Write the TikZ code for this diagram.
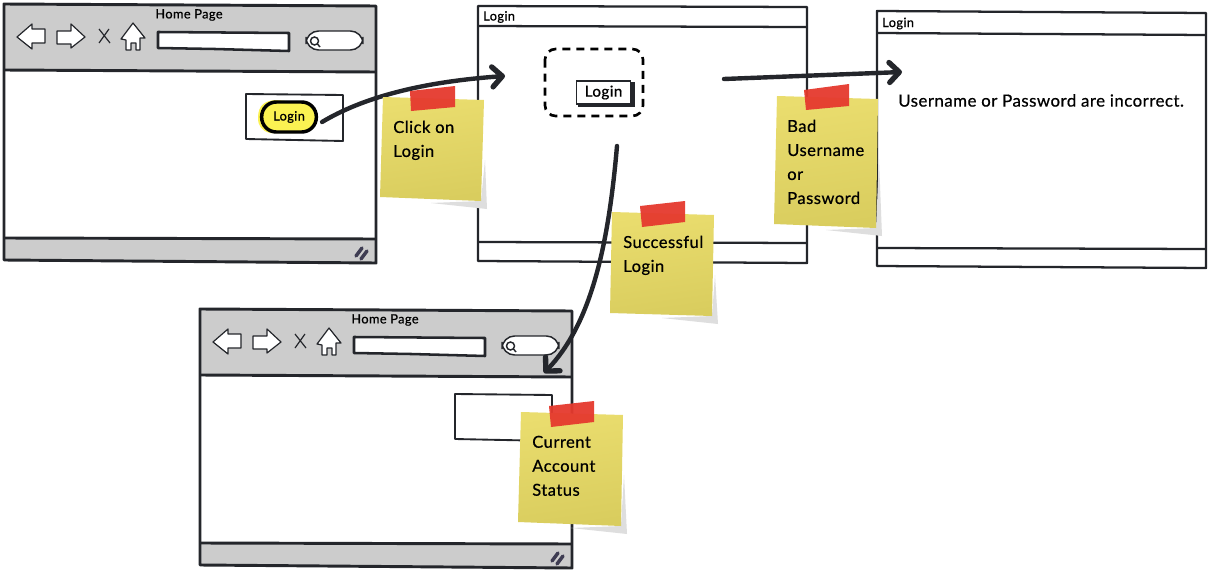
\documentclass[tikz,border=0pt]{standalone}
\usepackage{fontspec}
\setmainfont{Lato}[LetterSpace=3,RawFeature={embolden=0.6}]
\usetikzlibrary{arrows.meta}
\definecolor{ink}{HTML}{24262B}
\definecolor{chrome}{HTML}{CCCCCC}
\definecolor{noteA}{HTML}{EADD6E}
\definecolor{noteB}{HTML}{D9CD5E}
\definecolor{tapeR}{HTML}{E5392E}
\definecolor{marker}{HTML}{FBF252}
\definecolor{hatch}{HTML}{3E3C52}
\tikzset{
  x=0.75pt,y=-0.75pt,
  frame/.style={draw=ink,line width=2.2pt,line join=round},
  midframe/.style={draw=ink,line width=1.7pt,line join=round},
  thinframe/.style={draw=ink,line width=1.4pt,line join=round},
  icon/.style={draw=ink,fill=white,line width=0.9pt,line join=round},
  smalltext/.style={font=\fontsize{9.6}{11}\selectfont,inner sep=0pt,text=black},
  bodytext/.style={font=\fontsize{12.4}{18}\selectfont,inner sep=0pt,align=left,anchor=north west,text=black},
  flow/.style={draw=ink,line width=3.3pt,line cap=round,-{Straight Barb[length=7.5pt,width=15pt,line width=4pt,round]}},
  noteshadow/.style={fill=black!13,draw=none},
  tape/.style={fill=tapeR,draw=none,opacity=.95}
}
\newcommand{\browserwin}[1]{%
  \fill[chrome] (4,4)--(376,6)--(376,72)--(4,70)--cycle;
  \fill[chrome] (4,238)--(376,239)--(376,263)--(4,260)--cycle;
  \draw[frame] (4,4)--(376,6)--(376,263)--(4,260)--cycle;
  \draw[frame] (4,70)--(376,72);
  \draw[frame] (4,238)--(376,239);
  \node[smalltext] (#1title) at (189,15) {Home Page};
  \draw[icon] (17,37)--(32,24)--(32,29)--(45,29)--(45,43)--(32,43)--(32,49)--cycle;
  \draw[icon] (57,31)--(71,31)--(71,24)--(85,37)--(71,48)--(71,44)--(57,44)--cycle;
  \draw[ink,line width=0.9pt] (99,29)--(110,43) (109,29)--(99,43);
  \draw[icon] (133,23)--(145,38)--(140,38)--(140,50)--(136,50)--(136,43)--(131,43)--(131,50)--(126,50)--(126,40)--(121,39)--cycle;
  \draw[frame,fill=white,line width=1.9pt] (158,32)--(289,33)--(289,51)--(215,49)--(158,48)--cycle;
  \draw[icon,line width=1.1pt,rounded corners=9.5] (306,31) rectangle (363,50);
  \draw[ink,line width=1.1pt] (314.5,41) circle[radius=4] (317.5,44)--(320,47);
  \draw[hatch,line width=2.6pt,line cap=round] (356,256)--(362,248) (361,259)--(367,251);
}
\newcommand{\sticky}[8]{% name, TL, TR, BR, BL, tape path, text pos, text
  \fill[noteshadow] ([shift={(1,60)}]#3)--([shift={(6,8)}]#4)--([shift={(-50,2)}]#4)--(#4)--cycle;
  \shade[top color=noteA,bottom color=noteB,shading angle=8] (#2)--(#3)--(#4)--(#5)--cycle;
  \fill[tape] #6;
  \node[bodytext] (#1) at (#7) {#8};
}
\begin{document}
\begin{tikzpicture}
\useasboundingbox (0,0) rectangle (1208,571);
\fill[white] (0,0) rectangle (1208,571);

% Home page, first window
\browserwin{a}
\draw[thinframe] (246,94)--(343,95)--(343,141)--(246,139)--cycle;
\fill[marker] (258,118) .. controls (258,104) and (266,101) .. (275,100) -- (300,102) .. controls (312,103) and (316,110) .. (316,116) .. controls (314,128) and (306,132) .. (296,133) -- (270,133) .. controls (262,131) and (258,126) .. (258,118) -- cycle;
\node[draw=black,line width=2.6pt,rounded corners=11,minimum width=41pt,minimum height=22.5pt,inner sep=0pt,font=\fontsize{9.6}{11}\selectfont] (hpLogin) at (289,117) {Login};

% Login window
\draw[midframe] (478,6)--(807,7)--(807,263)--(478,261)--cycle;
\draw[midframe] (478,26)--(807,27);
\draw[midframe] (478,242)--(807,243);
\node[smalltext,anchor=west] (midTitle) at (483,17) {Login};
\draw[draw=black,line width=2pt,dash pattern=on 6pt off 4.5pt,rounded corners=8] (545,49) rectangle (643,116);
\fill[ink] (578,100) rectangle (635,107);
\fill[ink] (628,82) rectangle (635,107);
\node[draw=ink,fill=white,line width=1.2pt,minimum width=40.5pt,minimum height=17pt,inner sep=0pt,font=\fontsize{11.4}{13}\selectfont] (midLogin) at (603.5,92.5) {Login};

% Error window
\draw[midframe] (877,11)--(1206,13)--(1206,268)--(877,266)--cycle;
\draw[midframe] (877,33)--(1206,35);
\draw[midframe] (877,248)--(1206,249);
\node[smalltext,anchor=west] (errTitle) at (882,23.5) {Login};
\node[font=\fontsize{12.6}{15}\selectfont,inner sep=0pt,anchor=west] (errMsg) at (898,100.5) {Username or Password are incorrect.};

% Home page, second window
\begin{scope}[shift={(196,305)}]
\browserwin{b}
\end{scope}
\draw[thinframe] (455,394)--(552,395)--(552,441)--(455,439)--cycle;

% Connectors
\coordinate (endA) at (505,76);
\coordinate (startB) at (724,79);
\coordinate (endB) at (902,72);
\coordinate (startC) at (617,146);
\coordinate (endC) at (544,373);
\draw[flow] (hpLogin.east) ++(4,5) .. controls (362,98) and (420,82) .. (endA);
\draw[flow] (startB) -- (endB);
\draw[flow] (startC) .. controls (608,250) and (590,325) .. (endC);

% Sticky notes
\sticky{noteClick}{383,97}{484,100}{481,201}{380,197}{(410,91)--(455,86)--(455,107)--(411,111)--cycle}{393,120.5}{Click on\\Login}
\sticky{noteGood}{612,212}{714,215}{712,316}{610,313}{(640,206)--(685,201)--(685,222)--(642,227)--cycle}{623,235.5}{Successful\\Login}
\sticky{noteBad}{777,96}{878,99}{876,228}{774,224}{(804,90)--(849,84)--(849,106)--(806,110)--cycle}{787,119.5}{Bad\\Username\\or\\Password}
\sticky{noteStatus}{521,412}{623,415}{621,526}{518,522}{(549,406)--(594,401)--(594,422)--(551,427)--cycle}{532,435.5}{Current\\Account\\Status}
\end{tikzpicture}
\end{document}
